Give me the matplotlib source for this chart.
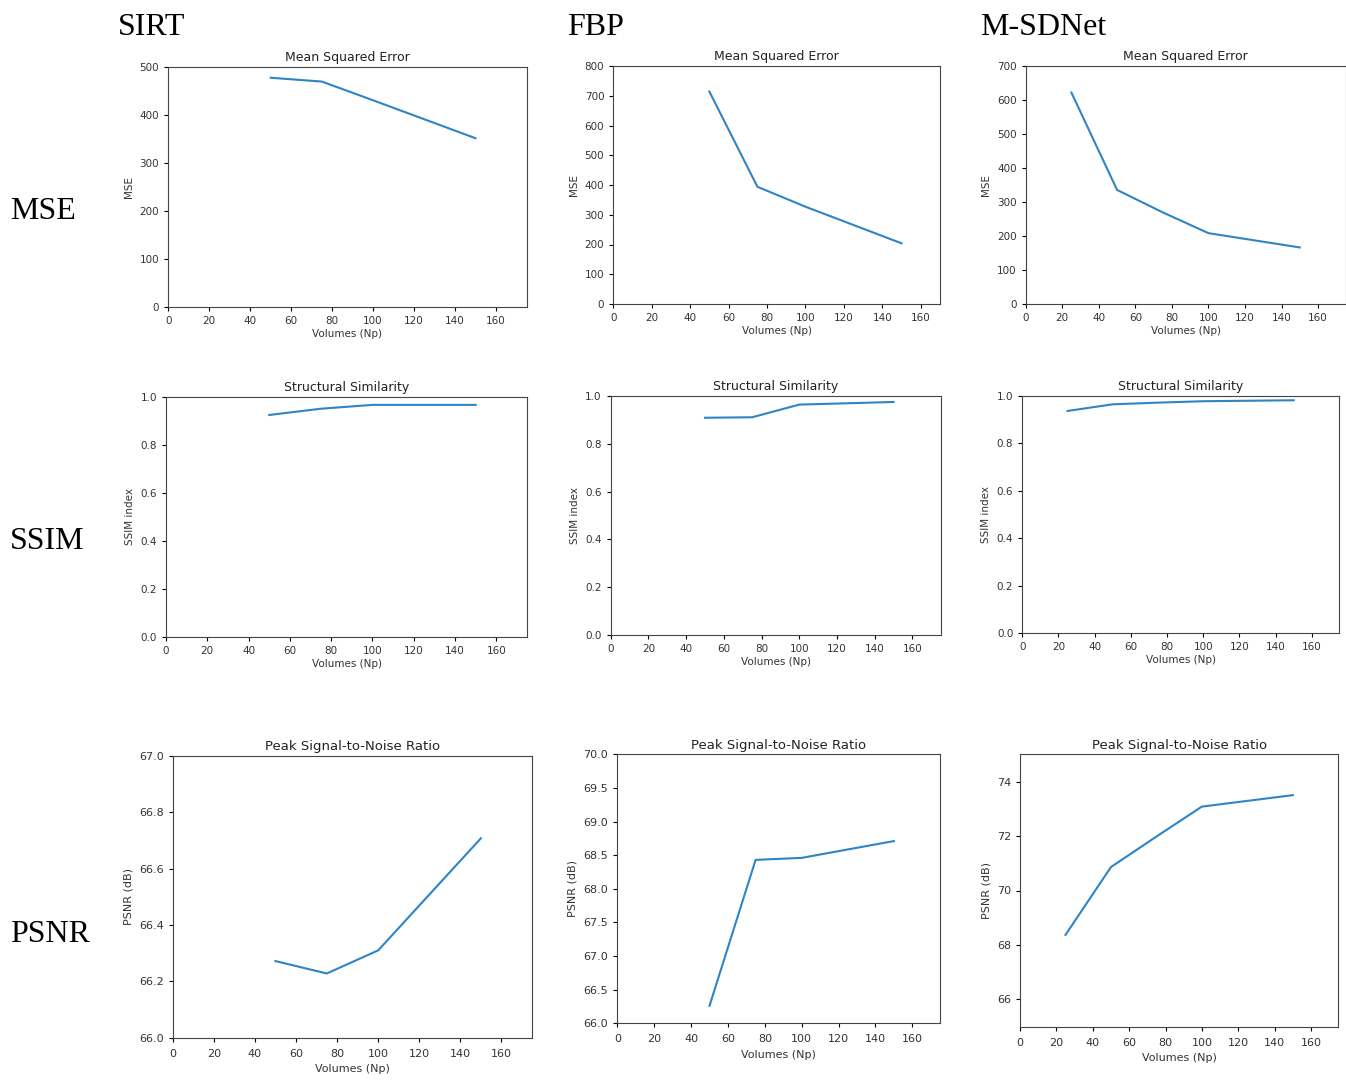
import matplotlib.pyplot as plt

# ---------------------------------------------
# number of projections (volumes) per method
# ---------------------------------------------
np_sirt = [50, 75, 100, 150]
np_fbp = [50, 75, 100, 150]
np_msd = [25, 50, 75, 100, 150]

# MSE
mse_sirt = [477, 469, 430, 351]
mse_fbp = [714, 394, 327, 204]
mse_msd = [622, 336, 270, 209, 167]

# SSIM
ssim_sirt = [0.924, 0.950, 0.966, 0.966]
ssim_fbp = [0.909, 0.911, 0.964, 0.975]
ssim_msd = [0.937, 0.965, 0.972, 0.978, 0.982]

# PSNR (dB)
psnr_sirt = [66.272, 66.228, 66.310, 66.708]
psnr_fbp = [66.26, 68.43, 68.46, 68.71]
psnr_msd = [68.37, 70.86, 71.98, 73.08, 73.50]

methods = ["SIRT", "FBP", "M-SDNet"]
metrics = ["MSE", "SSIM", "PSNR"]

W, H = 1346, 1080
fig = plt.figure(figsize=(W / 100, H / 100), dpi=100)


def add_panel(l, t, r, b):
    # pixel box -> figure fraction
    return fig.add_axes([l / W, 1 - b / H, (r - l) / W, (b - t) / H])


panels = [
    # (box, x, y, title, ylabel, xlim, ylim, yticks, font size)
    ((168.3, 66.7, 526.7, 306.7), np_sirt, mse_sirt, "Mean Squared Error", "MSE", (0, 175), (0, 500), None, 7.5),
    ((613.3, 66, 940, 304), np_fbp, mse_fbp, "Mean Squared Error", "MSE", (0, 170), (0, 800), None, 7.5),
    ((1025.7, 66, 1345.5, 304.3), np_msd, mse_msd, "Mean Squared Error", "MSE", (0, 175), (0, 700), None, 7.5),
    ((166, 396.7, 527.3, 637.3), np_sirt, ssim_sirt, "Structural Similarity", "SSIM index", (0, 175), (0, 1), None, 7.5),
    ((610.7, 396, 940.7, 635), np_fbp, ssim_fbp, "Structural Similarity", "SSIM index", (0, 175), (0, 1), None, 7.5),
    ((1022.3, 396, 1339, 633.3), np_msd, ssim_msd, "Structural Similarity", "SSIM index", (0, 175), (0, 1), None, 7.5),
    ((172.7, 756, 532.3, 1037.7), np_sirt, psnr_sirt, "Peak Signal-to-Noise Ratio", "PSNR (dB)", (0, 175), (66, 67), None, 8),
    ((617.3, 754.3, 940, 1023.3), np_fbp, psnr_fbp, "Peak Signal-to-Noise Ratio", "PSNR (dB)", (0, 175), (66, 70), None, 8),
    ((1020, 754.3, 1338.3, 1026.7), np_msd, psnr_msd, "Peak Signal-to-Noise Ratio", "PSNR (dB)", (0, 175), (65, 75), [66, 68, 70, 72, 74], 8),
]

for box, x, y, title, ylab, xl, yl, yt, fs in panels:
    ax = add_panel(*box)
    ax.plot(x, y, color="#2f84c5", lw=1.5)
    ax.set_xlim(*xl)
    ax.set_ylim(*yl)
    ax.set_xticks(range(0, 161, 20))
    if yt is not None:
        ax.set_yticks(yt)
    ax.set_title(title, fontsize=fs + 1.5, color="#222222", pad=4)
    ax.set_xlabel("Volumes (Np)", fontsize=fs, color="#333333", labelpad=2 if fs < 8 else 4)
    ax.set_ylabel(ylab, fontsize=fs, color="#333333")
    ax.tick_params(labelsize=fs, labelcolor="#333333", length=3)
    if fs >= 8:
        ax.tick_params(axis="x", pad=5)
    for s in ax.spines.values():
        s.set_color("#444444")
        s.set_linewidth(0.8)

# column / row headings
serif = "Liberation Serif"
for name, xpx in zip(methods, [118, 567, 980]):
    fig.text(xpx / W, 1 - 35 / H, name, family=serif, fontsize=23, va="baseline", ha="left")
for name, ypx in zip(metrics, [219, 549, 942]):
    fig.text(10 / W, 1 - ypx / H, name, family=serif, fontsize=23, va="baseline", ha="left")

fig.savefig("out.png", dpi=100, facecolor="white")
